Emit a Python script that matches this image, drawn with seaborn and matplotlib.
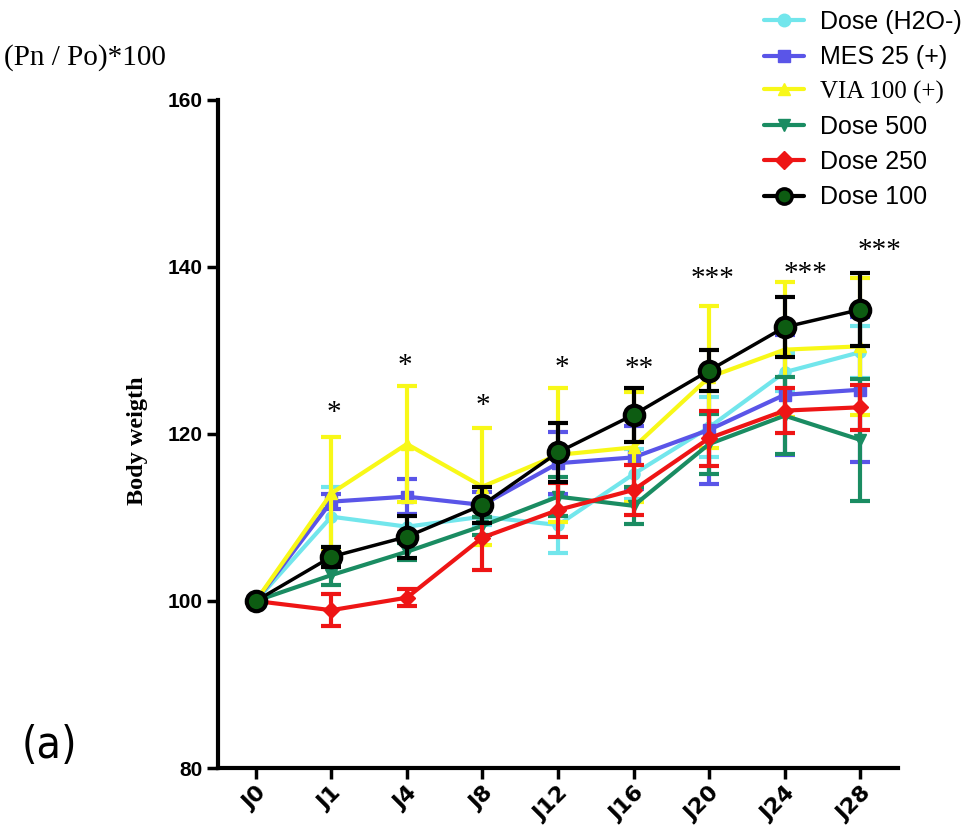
import numpy as np
import pandas as pd
import matplotlib
matplotlib.use("Agg")
import matplotlib.pyplot as plt
from matplotlib.lines import Line2D
from matplotlib import font_manager
import seaborn as sns

days = ["J0", "J1", "J4", "J8", "J12", "J16", "J20", "J24", "J28"]

h2o_mean = [100, 110.1, 108.9, 110.1, 109.1, 115.2, 120.8, 127.4, 129.8]
h2o_sem = [0, 3.6, 1.5, 1.0, 3.4, 3.0, 3.6, 2.3, 3.1]
mes_mean = [100, 111.9, 112.5, 111.5, 116.5, 117.2, 120.5, 124.7, 125.3]
mes_sem = [0, 0.9, 2.1, 1.5, 3.7, 3.8, 6.5, 7.2, 8.7]
via_mean = [100, 112.9, 118.8, 113.7, 117.5, 118.4, 126.8, 130.1, 130.5]
via_sem = [0, 6.7, 7.0, 7.0, 8.0, 6.6, 8.5, 8.1, 8.2]
d500_mean = [100, 103.1, 105.9, 109.0, 112.5, 111.4, 118.8, 122.2, 119.3]
d500_sem = [0, 1.2, 1.0, 1.1, 2.3, 2.2, 3.6, 4.6, 7.3]
d250_mean = [100, 98.9, 100.4, 107.6, 110.9, 113.3, 119.5, 122.8, 123.2]
d250_sem = [0, 1.9, 1.0, 3.9, 3.2, 3.0, 3.3, 2.7, 2.7]
d100_mean = [100, 105.3, 107.7, 111.5, 117.8, 122.3, 127.6, 132.8, 134.9]
d100_sem = [0, 1.2, 2.5, 2.2, 3.5, 3.2, 2.5, 3.6, 4.4]

groups = ["Dose (H2O-)", "MES 25 (+)", "VIA 100 (+)", "Dose 500", "Dose 250", "Dose 100"]
means = [h2o_mean, mes_mean, via_mean, d500_mean, d250_mean, d100_mean]
sems = [h2o_sem, mes_sem, via_sem, d500_sem, d250_sem, d100_sem]
colors = ["#72e6ec", "#5a55e8", "#f8f818", "#1a8c62", "#ee1515", "black"]
markers = ["o", "s", "^", "v", "D", "o"]

stars = ["*", "*", "*", "*", "**", "***", "***", "***"]
star_x = [1.03, 1.97, 3.0, 4.05, 5.07, 6.04, 7.27, 8.25]
star_y = [122.5, 128.2, 123.4, 127.9, 127.8, 138.6, 139.2, 141.9]

names = {f.name for f in font_manager.fontManager.ttflist}
narrow = "Liberation Sans Narrow" if "Liberation Sans Narrow" in names else "DejaVu Sans"

sns.set_style("white")
plt.rcParams["font.family"] = ["Liberation Sans", "DejaVu Sans"]
plt.rcParams["text.color"] = "black"
plt.rcParams["xtick.color"] = "black"
plt.rcParams["ytick.color"] = "black"
plt.rcParams["axes.labelcolor"] = "black"

fig = plt.figure(figsize=(9.79, 8.39), dpi=100)
ax = fig.add_axes([218 / 979, 1 - 768 / 839, 680 / 979, 668 / 839])

x = np.arange(len(days))
for i, (g, m, s, c, mk) in enumerate(zip(groups, means, sems, colors, markers)):
    df = pd.DataFrame({"day": x, "value": m})
    z = 3 + i * 2
    ax.errorbar(x, m, yerr=s, fmt="none", ecolor=c, elinewidth=3, capsize=7, capthick=3, zorder=z)
    if g == "Dose 100":
        sns.lineplot(data=df, x="day", y="value", color=c, marker=mk, markersize=14,
                     markerfacecolor="#0d5c12", markeredgecolor="black", markeredgewidth=3,
                     linewidth=2.5, ax=ax, zorder=z + 1)
    else:
        sns.lineplot(data=df, x="day", y="value", color=c, marker=mk, markersize=8,
                     markeredgecolor=c, markeredgewidth=1, linewidth=3, ax=ax, zorder=z + 1)

for sx, sy, st in zip(star_x, star_y, stars):
    ax.text(sx, sy, st, ha="center", va="center", fontsize=21, family="Liberation Serif", zorder=20)

ax.set_xlim(-0.5, 8.5)
ax.set_ylim(80, 160)
ax.set_yticks([80, 100, 120, 140, 160])
ax.set_xticks(x)
ax.set_xticklabels(days, rotation=45, ha="right", rotation_mode="anchor",
                   fontsize=16, fontweight="bold", family=[narrow, "DejaVu Sans"])
ax.set_yticklabels([80, 100, 120, 140, 160], fontsize=15, fontweight="bold")
ax.set_xlabel("")
ax.set_ylabel("")
ax.tick_params(axis="both", direction="out", length=8, width=2.5, pad=3,
               left=True, bottom=True)
sns.despine(ax=ax)
for sp in ["left", "bottom"]:
    ax.spines[sp].set_linewidth(3)
    ax.spines[sp].set_color("black")

fig.text(0.004, 1 - 58 / 839, "(Pn / Po)*100", fontsize=21, family="Liberation Serif", va="center")
fig.text(138 / 979, 1 - 441 / 839, "Body weigth", rotation=90, fontsize=17.5, fontweight="bold",
         family="Liberation Serif", ha="center", va="center")
fig.text(22 / 979, 1 - 745 / 839, "(a)", fontsize=32, family=[narrow, "DejaVu Sans"],
         fontstretch="condensed", va="center")

handles = []
for g, c, mk in zip(groups, colors, markers):
    if g == "Dose 100":
        h = Line2D([], [], color=c, marker=mk, markersize=11, markerfacecolor="#0d5c12",
                   markeredgecolor="black", markeredgewidth=2.5, linewidth=3)
    else:
        h = Line2D([], [], color=c, marker=mk, markersize=9, markeredgecolor=c, linewidth=3)
    handles.append(h)
leg = fig.legend(handles, groups, loc="upper left", bbox_to_anchor=(0.775, 0.994), frameon=False,
                 fontsize=18, handlelength=1.6, handletextpad=0.65, labelspacing=0.45,
                 borderpad=0.2, borderaxespad=0)
for t in leg.get_texts():
    if t.get_text().startswith("VIA"):
        t.set_family("Liberation Serif")

fig.savefig("out.png", dpi=100)
